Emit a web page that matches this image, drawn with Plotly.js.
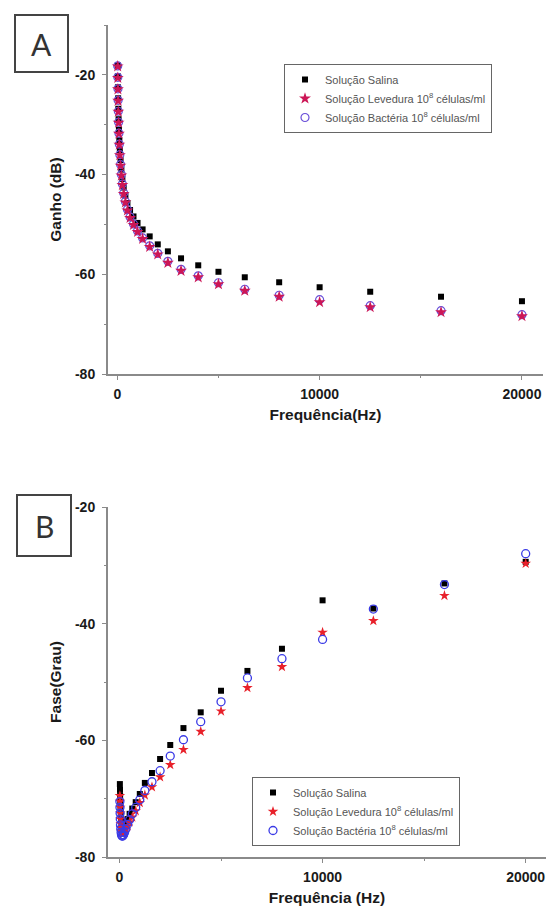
<!DOCTYPE html>
<html>
<head>
<meta charset="utf-8">
<script src="https://cdn.plot.ly/plotly-3.0.1.min.js"></script>
<style>html,body{margin:0;padding:0;background:#fff;}#chart{width:547px;height:911px;}</style>
</head>
<body>
<div id="chart"></div>
<script>
// 1/3-octave frequencies (Hz)
const freq = [20,25,31.5,40,50,63,80,100,125,160,200,250,315,400,500,630,800,1000,1250,1600,2000,2500,3150,4000,5000,6300,8000,10000,12500,16000,20000];

// Panel A: gain (dB)
const gainSalina   = [-18.1,-20.3,-22.5,-24.7,-26.8,-28.9,-31.0,-33.1,-35.1,-37.1,-39.0,-40.9,-42.6,-44.2,-45.7,-47.1,-48.4,-49.7,-51.0,-52.4,-54.0,-55.4,-56.8,-58.2,-59.5,-60.6,-61.6,-62.6,-63.5,-64.5,-65.4];
const gainLevedura = [-18.3,-20.6,-22.9,-25.2,-27.4,-29.6,-31.8,-34.0,-36.1,-38.2,-40.2,-42.1,-43.9,-45.6,-47.2,-48.7,-50.1,-51.5,-52.9,-54.5,-56.0,-57.7,-59.3,-60.6,-62.0,-63.3,-64.5,-65.6,-66.6,-67.6,-68.4];
const gainBacteria = [-18.2,-20.5,-22.8,-25.1,-27.3,-29.5,-31.7,-33.9,-36.0,-38.0,-40.0,-41.9,-43.7,-45.4,-47.0,-48.5,-49.9,-51.3,-52.7,-54.3,-55.8,-57.4,-59.0,-60.3,-61.7,-63.0,-64.2,-65.1,-66.3,-67.3,-68.1];

// Panel B: phase (degrees)
const phaseSalina   = [-67.5,-68.5,-69.5,-70.5,-71.5,-72.5,-73.3,-74.0,-74.5,-74.8,-75.0,-74.8,-74.3,-73.5,-72.6,-71.7,-70.6,-69.2,-67.3,-65.6,-63.2,-60.8,-57.9,-55.2,-51.5,-48.1,-44.3,-36.0,-37.4,-33.1,-29.4];
const phaseLevedura = [-69.5,-70.5,-71.5,-72.5,-73.5,-74.3,-75.0,-75.5,-75.8,-76.0,-76.0,-75.8,-75.3,-74.7,-74.0,-73.2,-72.1,-70.7,-69.4,-68.0,-66.3,-64.2,-61.6,-58.5,-55.0,-51.0,-47.4,-41.5,-39.5,-35.2,-29.7];
const phaseBacteria = [-70.5,-71.5,-72.5,-73.5,-74.5,-75.2,-75.8,-76.2,-76.4,-76.4,-76.2,-75.8,-75.2,-74.4,-73.6,-72.6,-71.5,-70.2,-68.6,-67.1,-65.2,-62.7,-59.9,-56.8,-53.4,-49.3,-46.0,-42.7,-37.5,-33.3,-28.0];

// Labels
const seriesNames = ["Solução Salina", "Solução Levedura 10<sup>8</sup> células/ml", "Solução Bactéria 10<sup>8</sup> células/ml"];
const panelLabels = ["A", "B"];
const xTitles = ["Frequência(Hz)", "Frequência (Hz)"];
const yTitles = ["Ganho (dB)", "Fase(Grau)"];
const xTickVals = [0, 10000, 20000];
const yTickVals = [-20, -40, -60, -80];

const W = 547, H = 911;
const px = v => v / W;
const py = v => 1 - v / H;

const FONT = "Liberation Sans, Arial, sans-serif";
// styles per panel: [salina, levedura, bacteria]
const mkStylesA = [
  {symbol: "square", size: 6, color: "#000000"},
  {symbol: "star", size: 9, color: "#cc1656"},
  {symbol: "circle-open", size: 8, color: "#6a4fd8", line: {width: 1.2, color: "#6a4fd8"}}
];
const mkStylesB = [
  {symbol: "square", size: 6, color: "#000000"},
  {symbol: "star", size: 8, color: "#e8202a"},
  {symbol: "circle-open", size: 8, color: "#3a3ae6", line: {width: 1.3, color: "#3a3ae6"}}
];

function trace(x, y, i, styles, ax, lg) {
  const s = styles[i];
  const m = {symbol: s.symbol, size: s.size, color: s.color};
  m.line = s.line ? s.line : {width: 0};
  return {x: x, y: y, type: "scatter", mode: "markers", name: seriesNames[i],
    marker: m, xaxis: ax[0], yaxis: ax[1], legend: lg, legendrank: i + 1, showlegend: true};
}

const data = [
  trace(freq, gainSalina, 0, mkStylesA, ["x","y"], "legend"),
  trace(freq, gainBacteria, 2, mkStylesA, ["x","y"], "legend"),
  trace(freq, gainLevedura, 1, mkStylesA, ["x","y"], "legend"),
  trace(freq, phaseSalina, 0, mkStylesB, ["x2","y2"], "legend2"),
  trace(freq, phaseLevedura, 1, mkStylesB, ["x2","y2"], "legend2"),
  trace(freq, phaseBacteria, 2, mkStylesB, ["x2","y2"], "legend2")
];

const tickFont = {family: FONT, size: 14, color: "#1a1a1a", weight: "bold"};
const titleFont = {family: FONT, size: 15.5, color: "#1a1a1a", weight: "bold"};

function xaxis(domain, range, anchor, title) {
  return {domain: domain, range: range, anchor: anchor,
    showline: true, linecolor: "#8a8a8a", linewidth: 2, mirror: false,
    showgrid: false, zeroline: false,
    tickmode: "array", tickvals: xTickVals, ticktext: xTickVals.map(String),
    ticks: "outside", ticklen: 4, tickcolor: "#8a8a8a", tickwidth: 1,
    ticklabelstandoff: 2,
    minor: {ticks: "outside", ticklen: 2, tickcolor: "#8a8a8a", dtick: 5000, tick0: 0},
    tickfont: tickFont,
    title: {text: title, standoff: 8, font: titleFont}
  };
}
function yaxis(domain, range, anchor, title) {
  return {domain: domain, range: range, anchor: anchor,
    showline: true, linecolor: "#8a8a8a", linewidth: 2, mirror: false,
    showgrid: false, zeroline: false,
    tickmode: "array", tickvals: yTickVals, ticktext: yTickVals.map(v => "-" + Math.abs(v)),
    ticks: "outside", ticklen: 4, tickcolor: "#8a8a8a", tickwidth: 1,
    ticklabelstandoff: 4,
    minor: {ticks: "outside", ticklen: 2, tickcolor: "#8a8a8a", dtick: 10, tick0: 0},
    tickfont: tickFont,
    title: {text: title, standoff: 10, font: titleFont}
  };
}

const legendCommon = {
  xanchor: "left", yanchor: "top", bgcolor: "rgba(255,255,255,0)",
  bordercolor: "#666", borderwidth: 1,
  font: {family: FONT, size: 11, color: "#555"},
  itemwidth: 30, tracegroupgap: 0, traceorder: "normal"
};

const layout = {
  width: W, height: H,
  margin: {l: 0, r: 0, t: 0, b: 0},
  paper_bgcolor: "#fff", plot_bgcolor: "#fff",
  font: {family: FONT},
  xaxis: xaxis([px(108), px(543)], [-460, 21040], "y", xTitles[0]),
  yaxis: yaxis([py(374), py(25)], [-80, -10], "x", yTitles[0]),
  xaxis2: xaxis([px(108), px(546)], [-565, 21000], "y2", xTitles[1]),
  yaxis2: yaxis([py(857), py(507)], [-80, -20], "x2", yTitles[1]),
  legend: Object.assign({x: px(284), y: py(64)}, legendCommon),
  legend2: Object.assign({x: px(252), y: py(777)}, legendCommon),
  shapes: [
    {type: "rect", xref: "paper", yref: "paper", x0: px(15), x1: px(68), y0: py(72), y1: py(15), line: {color: "#444", width: 2}},
    {type: "rect", xref: "paper", yref: "paper", x0: px(17), x1: px(71), y0: py(556), y1: py(495), line: {color: "#444", width: 2}}
  ],
  annotations: [
    {xref: "paper", yref: "paper", x: px(41.5), y: py(44), xanchor: "center", yanchor: "middle", text: panelLabels[0], showarrow: false, font: {family: "Lato, Open Sans, sans-serif", size: 30, color: "#333"}},
    {xref: "paper", yref: "paper", x: px(44), y: py(526), xanchor: "center", yanchor: "middle", text: panelLabels[1], showarrow: false, font: {family: "Lato, Open Sans, sans-serif", size: 30, color: "#333"}}
  ],
  showlegend: true
};

Plotly.newPlot("chart", data, layout, {displayModeBar: false, staticPlot: true});
</script>
</body>
</html>
